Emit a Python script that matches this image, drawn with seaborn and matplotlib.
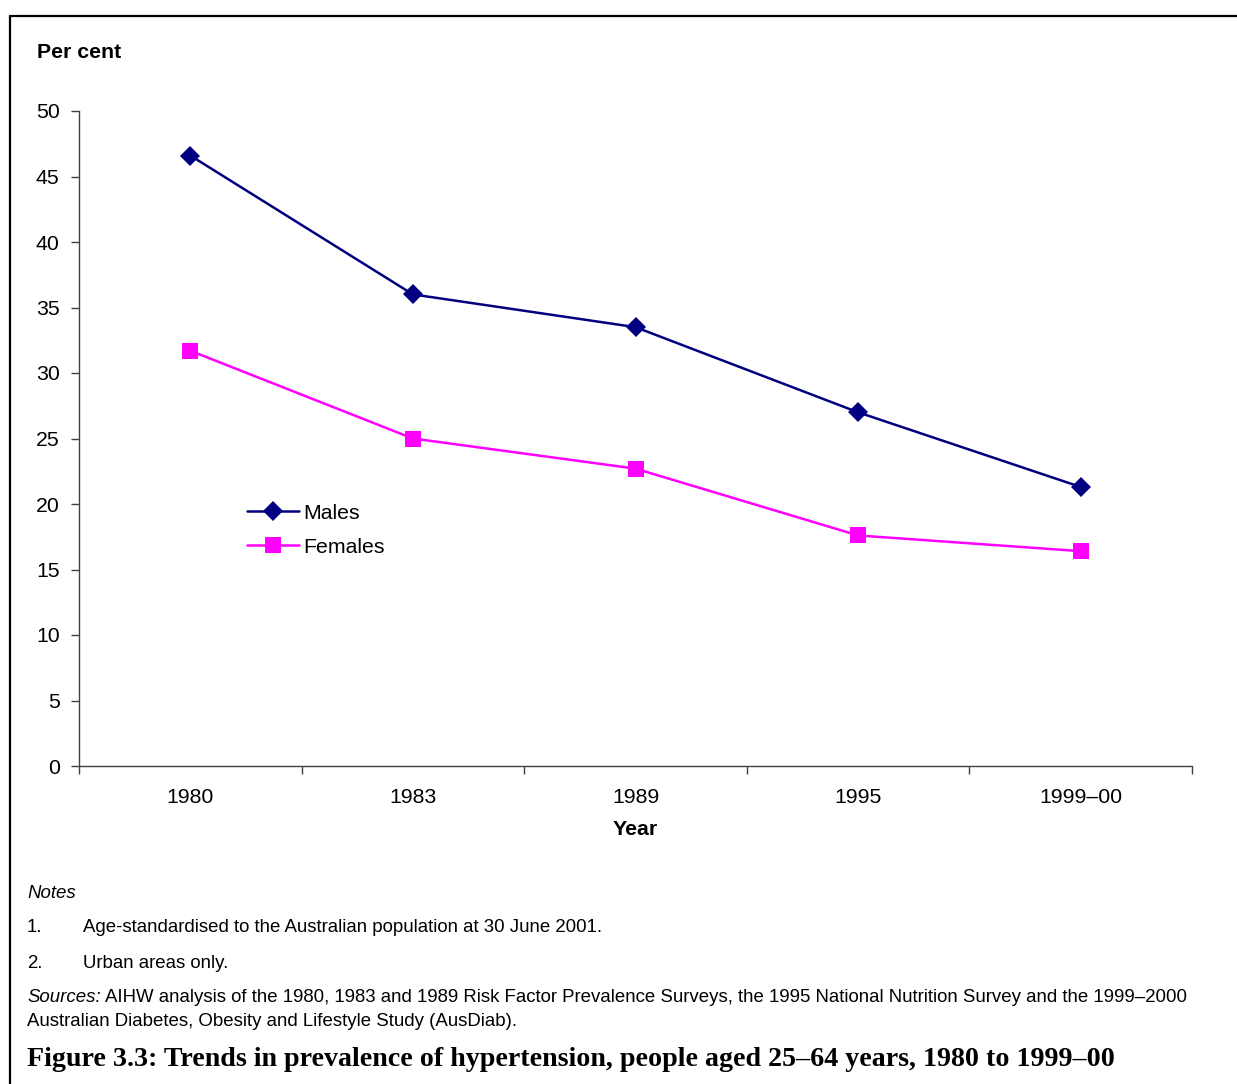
import pandas as pd
import numpy as np
import seaborn as sns
import matplotlib.pyplot as plt
from matplotlib.lines import Line2D

# data
years = ['1980', '1983', '1989', '1995', '1999–00']
males = [46.6, 36.0, 33.5, 27.0, 21.3]
females = [31.7, 25.0, 22.7, 17.6, 16.4]

df = pd.DataFrame({
    'Year': years * 2,
    'Per cent': males + females,
    'Sex': ['Males'] * len(years) + ['Females'] * len(years),
})

sns.set_style('white')
plt.rcParams['font.family'] = ['Liberation Sans', 'DejaVu Sans']
plt.rcParams['text.color'] = 'black'
plt.rcParams['axes.labelcolor'] = 'black'
plt.rcParams['xtick.color'] = 'black'
plt.rcParams['ytick.color'] = 'black'

fig = plt.figure(figsize=(12.37, 10.84), dpi=100)
ax = fig.add_axes([79 / 1237, 1 - 766 / 1084, (1192 - 79) / 1237, (766 - 111) / 1084])

sns.lineplot(data=df, x='Year', y='Per cent', hue='Sex', style='Sex',
             palette={'Males': '#000080', 'Females': '#FF00FF'},
             markers={'Males': 'D', 'Females': 's'}, dashes=False,
             markersize=10, linewidth=1.8, markeredgewidth=0, sort=False, ax=ax)

ax.set_xlim(-0.5, len(years) - 0.5)
ax.set_ylim(0, 50)
ax.set_yticks(range(0, 51, 5))
ax.set_xticks(range(len(years)))
ax.set_xticks(np.arange(-0.5, len(years), 1), minor=True)
ax.tick_params(axis='x', which='major', bottom=False, length=0, pad=16, labelsize=15.3)
ax.tick_params(axis='x', which='minor', bottom=True, length=6, width=1, color='#404040', direction='out')
ax.tick_params(axis='y', left=True, length=6, width=1, color='#404040', direction='out', labelsize=15.3, pad=8)
for s in ['top', 'right']:
    ax.spines[s].set_visible(False)
for s in ['left', 'bottom']:
    ax.spines[s].set_color('#404040')
    ax.spines[s].set_linewidth(1)
ax.set_xlabel('Year', fontsize=15.3, fontweight='bold', labelpad=9)
ax.set_ylabel('')

# square markers in the reference are a bit bigger
for line in ax.lines:
    if line.get_marker() == 's':
        line.set_markersize(11)

handles, labels = ax.get_legend_handles_labels()
for h in handles:
    if h.get_marker() == 's':
        h.set_markersize(11)
ax.legend(handles, labels, loc='center left', bbox_to_anchor=(0.143, 0.36),
          frameon=False, fontsize=15.3, handlelength=2.45, handletextpad=0.2,
          labelspacing=0.7, borderaxespad=0)

fig.text(37 / 1237, 1 - 53 / 1084, 'Per cent', fontsize=15.3, fontweight='bold', va='center')

# notes and sources
fs = 13.4
fig.text(27 / 1237, 1 - 893 / 1084, 'Notes', fontsize=fs, style='italic', va='center')
fig.text(27 / 1237, 1 - 928 / 1084, '1.', fontsize=fs, va='center')
fig.text(83 / 1237, 1 - 928 / 1084, 'Age-standardised to the Australian population at 30 June 2001.', fontsize=fs, va='center')
fig.text(27 / 1237, 1 - 963 / 1084, '2.', fontsize=fs, va='center')
fig.text(83 / 1237, 1 - 963 / 1084, 'Urban areas only.', fontsize=fs, va='center')
fig.text(27 / 1237, 1 - 997 / 1084, 'Sources:', fontsize=fs, style='italic', va='center')
fig.text(105 / 1237, 1 - 997 / 1084,
         'AIHW analysis of the 1980, 1983 and 1989 Risk Factor Prevalence Surveys, the 1995 National Nutrition Survey and the 1999–2000',
         fontsize=fs, va='center')
fig.text(27 / 1237, 1 - 1021 / 1084, 'Australian Diabetes, Obesity and Lifestyle Study (AusDiab).', fontsize=fs, va='center')
fig.text(27 / 1237, 1 - 1059 / 1084,
         'Figure 3.3: Trends in prevalence of hypertension, people aged 25–64 years, 1980 to 1999–00',
         fontsize=20.2, fontweight='bold', family=['Liberation Serif', 'DejaVu Serif'], va='center')

# frame lines at top and left
fig.add_artist(Line2D([10 / 1237, 10 / 1237], [0, 1 - 16 / 1084], color='black', linewidth=1.6))
fig.add_artist(Line2D([10 / 1237, 1], [1 - 16 / 1084, 1 - 16 / 1084], color='black', linewidth=1.6))

fig.savefig('out.png', dpi=100)
